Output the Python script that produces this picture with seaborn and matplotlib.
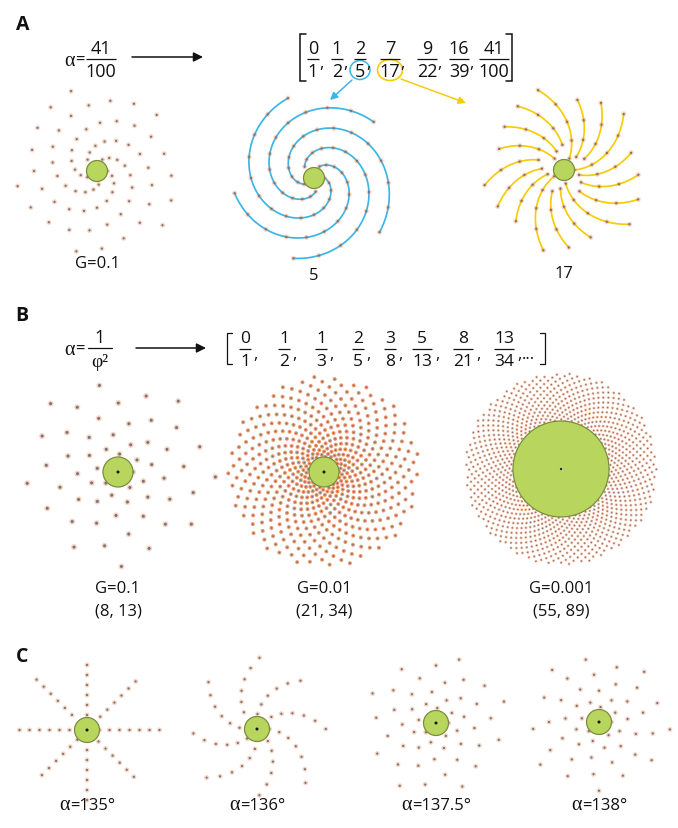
import numpy as np
import pandas as pd
import matplotlib
matplotlib.use("Agg")
import matplotlib.pyplot as plt
from matplotlib.patches import Circle, Ellipse
import seaborn as sns

sns.set_theme(style="white")
plt.rcParams["font.family"] = ["Open Sans", "DejaVu Sans"]

# ---------------- model parameters ----------------
# A: rational divergence 41/100 and its continued-fraction convergents
alpha_A = (41, 100)
convergents_A = [(0, 1), (1, 2), (2, 5), (7, 17), (9, 22), (16, 39), (41, 100)]
G_A = 0.1
N_A = 72
parastichies_A = [5, 17]

# B: golden divergence 1/phi^2 at three growth rates
golden_convergents = [(0, 1), (1, 2), (1, 3), (2, 5), (3, 8), (5, 13), (8, 21), (13, 34)]
G_B = [0.1, 0.01, 0.001]
N_B = [56, 540, 1000]
parastichy_pairs_B = [(8, 13), (21, 34), (55, 89)]

# C: divergence angles around the golden angle
alpha_C_deg = [135, 136, 137.5, 138]
G_C = 0.1
N_C = 49

# ---------------- style ----------------
ORANGE = "#ee7436"
GRAY = "#74747e"
GREEN = "#b8d65e"
GREEN_EDGE = "#7b8c3f"
BLUE = "#3bb6e6"
YELLOW = "#f6cc08"
INK = "#111111"
SERIF = ["Liberation Serif", "DejaVu Serif"]

W, H = 678, 829
fig = plt.figure(figsize=(W / 100, H / 100), dpi=100)


def primordia(alpha_turn, G, N):
    """Primordium n sits at radius 1 + G*n (meristem radius = 1), angle 2*pi*alpha*n."""
    n = np.arange(N)
    r = 1 + G * n
    th = 2 * np.pi * alpha_turn * n
    return pd.DataFrame({"n": n, "x": r * np.cos(th), "y": r * np.sin(th)})


def parastichies(alpha_turn, G, N, m, samples=160):
    """Smooth spirals through primordia s, s+m, s+2m, ..."""
    delta = alpha_turn * m - round(alpha_turn * m)
    frames = []
    for s in range(m):
        last = s + m * ((N - 1 - s) // m)
        t = np.linspace(s, last, samples)
        th = 2 * np.pi * (alpha_turn * s + delta * (t - s) / m)
        r = 1 + G * t
        frames.append(pd.DataFrame({"arm": s, "k": np.arange(samples),
                                    "x": r * np.cos(th), "y": r * np.sin(th)}))
    return pd.concat(frames, ignore_index=True)


def pattern_axes(cx, cy, unit_px, half_px=115):
    ax = fig.add_axes([(cx - half_px) / W, 1 - (cy + half_px) / H,
                       2 * half_px / W, 2 * half_px / H])
    ax.patch.set_alpha(0)
    ax.axis("off")
    ax._lim = half_px / unit_px
    return ax


def finish(ax):
    lim = ax._lim
    ax.set_xlim(-lim, lim)
    ax.set_ylim(lim, -lim)   # angles run clockwise on screen
    ax.axis("off")


def draw_points(ax, df, halo_px, core_px, halo_alpha=0.35):
    sns.scatterplot(data=df, x="x", y="y", ax=ax, s=(halo_px * 0.72) ** 2,
                    color=ORANGE, alpha=halo_alpha, edgecolor="none",
                    legend=False, zorder=2)
    sns.scatterplot(data=df, x="x", y="y", ax=ax, s=(core_px * 0.72) ** 2,
                    color=GRAY, edgecolor="none", legend=False, zorder=2.5)


def meristem(ax, unit_px, dot_px=None):
    ax.add_patch(Circle((0, 0), 1, fc=GREEN, ec=GREEN_EDGE, lw=0.9, zorder=3))
    if dot_px:
        ax.add_patch(Circle((0, 0), dot_px / 2 / unit_px, fc="#151515",
                            ec="none", zorder=4))


# ---------------- overlay for text ----------------
ov = fig.add_axes([0, 0, 1, 1], zorder=10)
ov.set_xlim(0, W)
ov.set_ylim(H, 0)
ov.axis("off")
ov.patch.set_alpha(0)
renderer = fig.canvas.get_renderer()


def txt(x, y, s, size=11.5, ha="center", va="center", **kw):
    return ov.text(x, y, s, fontsize=size, ha=ha, va=va, color=INK, **kw)


def alpha_text(x, y, rest, size=12, align="center"):
    """Upright serif alpha followed by sans text, aligned as one label."""
    t1 = txt(0, y, "α", size + 2.5, ha="left", family=SERIF)
    t2 = txt(0, y, rest, size, ha="left")
    w1 = t1.get_window_extent(renderer).width
    w2 = t2.get_window_extent(renderer).width
    x0 = {"center": x - (w1 + w2) / 2, "right": x - (w1 + w2), "left": x}[align]
    t1.set_x(x0)
    t2.set_x(x0 + w1 + 0.5)


def frac(x, y, num, den, size=13, gap=11, w=None):
    num, den = str(num), str(den)
    txt(x, y - gap, num, size)
    txt(x, y + gap + 0.5, den, size)
    if w is None:
        w = 9.4 * max(len(num), len(den)) + 2
    ov.plot([x - w / 2, x + w / 2], [y, y], color=INK, lw=0.9,
            solid_capstyle="butt")
    return w


def bracket(x, y0, y1, side, serif=6, lw=1.1):
    d = serif if side == "left" else -serif
    ov.plot([x + d, x, x, x + d], [y0, y0, y1, y1], color=INK, lw=lw,
            solid_joinstyle="miter")


def arrow(x0, y0, x1, y1, color=INK, lw=1.1, scale=14):
    ov.annotate("", xy=(x1, y1), xytext=(x0, y0),
                arrowprops=dict(arrowstyle="-|>", color=color, lw=lw,
                                mutation_scale=scale, shrinkA=0, shrinkB=0))


# ================= Panel A =================
txt(23, 25, "A", 14, weight="bold")
alpha_text(84, 61, "=", 12, align="right")
frac(101, 60, alpha_A[0], alpha_A[1], w=30)
arrow(132, 58, 203, 58)

a_x = [313, 337, 360, 390, 427, 459, 494]
bracket(300, 35, 82, "left")
bracket(512, 35, 82, "right")
for i, ((p, q), x) in enumerate(zip(convergents_A, a_x)):
    w = frac(x, 60, p, q)
    if i < len(a_x) - 1:
        txt(x + w / 2 + 2.5, 64, ",", 12)

# circled denominators 5 and 17
ov.add_patch(Ellipse((360, 71), 20, 19, fc="none", ec=BLUE, lw=1.1))
ov.add_patch(Ellipse((390, 71), 25, 21, fc="none", ec=YELLOW, lw=1.2))
arrow(352, 81, 330, 101, color=BLUE, lw=1.1, scale=11)
arrow(401, 80, 466, 104, color=YELLOW, lw=1.1, scale=11)

alpha_turn_A = alpha_A[0] / alpha_A[1]
ptsA = primordia(alpha_turn_A, G_A, N_A)
A_centers = [(97, 172), (314, 179), (564, 171)]
A_unit = 10.5
line_colors = [BLUE, YELLOW]
for j, (cx, cy) in enumerate(A_centers):
    ax = pattern_axes(cx, cy, A_unit, half_px=100)
    if j > 0:
        m = parastichies_A[j - 1]
        arms = parastichies(alpha_turn_A, G_A, N_A, m)
        sns.lineplot(data=arms, x="x", y="y", units="arm", estimator=None,
                     sort=False, color=line_colors[j - 1], lw=1.25, ax=ax,
                     legend=False, zorder=1.5)
    draw_points(ax, ptsA, 5, 2.2, 0.3)
    meristem(ax, A_unit)
    finish(ax)

txt(97, 264, f"G={G_A}", 12)
txt(314, 276, str(parastichies_A[0]), 12)
txt(564, 274, str(parastichies_A[1]), 12)

# ================= Panel B =================
txt(22, 316, "B", 14, weight="bold")
alpha_text(84, 350, "=", 12, align="right")
txt(100, 338, "1", 13)
ov.plot([88, 112], [349, 349], color=INK, lw=0.9)
txt(100, 362, "φ²", 14, family=SERIF)
arrow(136, 349, 206, 349)

b_x = [245, 284, 321, 358, 390, 422, 463, 504]
bracket(227, 334, 365, "left", serif=5, lw=0.9)
bracket(545, 334, 365, "right", serif=5, lw=0.9)
for (p, q), x in zip(golden_convergents, b_x):
    w = frac(x, 350, p, q, size=12.5, gap=11.5)
    txt(x + w / 2 + 5, 355, ",", 12)
txt(528, 355, "...", 12)

alpha_gold = (3 - np.sqrt(5)) / 2
B_centers = [(118, 473), (324, 473), (561, 470)]
B_units = [15, 15, 48]
B_style = [(6, 3.0, 0.3, 3.0), (4.0, 1.7, 0.75, 3.0), (2.8, 1.3, 0.55, 2.2)]
for (cx, cy), unit, G, N, (hp, cp, ha_, dot), pair in zip(
        B_centers, B_units, G_B, N_B, B_style, parastichy_pairs_B):
    ax = pattern_axes(cx, cy, unit, half_px=112)
    draw_points(ax, primordia(alpha_gold, G, N), hp, cp, ha_)
    meristem(ax, unit, dot)
    finish(ax)
    txt(cx, 589, f"G={G}", 12)
    txt(cx, 611, f"({pair[0]}, {pair[1]})", 12)

# ================= Panel C =================
txt(22, 657, "C", 14, weight="bold")
C_centers = [(87, 731), (257, 730), (436, 724), (599, 723)]
C_unit = 12.5
for (cx, cy), deg in zip(C_centers, alpha_C_deg):
    ax = pattern_axes(cx, cy, C_unit, half_px=85)
    draw_points(ax, primordia(deg / 360, G_C, N_C), 5, 2.2, 0.3)
    meristem(ax, C_unit, 3.0)
    finish(ax)
    alpha_text(cx, 806, f"={deg:g}°", 12)

fig.savefig("out.png", dpi=100)
